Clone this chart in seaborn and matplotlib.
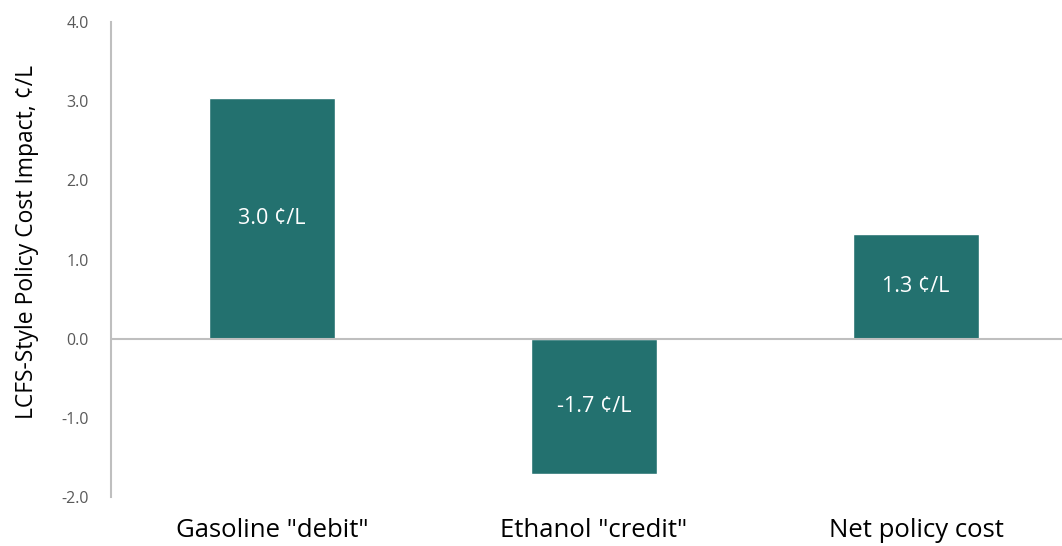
import matplotlib
matplotlib.use("Agg")
import matplotlib.pyplot as plt
import seaborn as sns
import pandas as pd

# Policy cost components, cents per litre
categories = ['Gasoline "debit"', 'Ethanol "credit"', 'Net policy cost']
values = [3.04, -1.71, 1.32]
y_ticks = [-2.0, -1.0, 0.0, 1.0, 2.0, 3.0, 4.0]

sns.set_theme(style="white")
plt.rcParams["font.family"] = ["Open Sans", "DejaVu Sans"]

bar_color = "#23716F"
axis_gray = "#BFBFBF"
tick_gray = "#595959"

df = pd.DataFrame({"category": categories, "value": values})

fig = plt.figure(figsize=(10.62, 5.46), dpi=100)
ax = fig.add_axes([0.1045, 0.0897, 0.9096, 0.87])

sns.barplot(data=df, x="category", y="value", color=bar_color,
            saturation=1, width=0.39, ax=ax)

ax.set_ylim(-2.0, 4.0)
ax.set_xlim(-0.5, 2.5)
ax.set_yticks(y_ticks)
ax.set_yticklabels([f"{t:.1f}" for t in y_ticks], color=tick_gray, fontsize=11.5)
ax.tick_params(axis="y", length=0, pad=16)
ax.tick_params(axis="x", length=0, pad=15, labelsize=18.5, labelcolor="black")

ax.axhline(0, color=axis_gray, lw=1.5, zorder=1)
for side in ["top", "right", "bottom"]:
    ax.spines[side].set_visible(False)
ax.spines["left"].set_color(axis_gray)
ax.spines["left"].set_linewidth(1.5)

ax.set_xlabel("")
ax.set_ylabel("LCFS-Style Policy Cost Impact, ¢/L", fontsize=16.5, color="black")
ax.yaxis.set_label_coords(-0.074, 0.537)

ax.bar_label(ax.containers[0], labels=[f"{v:.1f} ¢/L" for v in values],
             label_type="center", color="white", fontsize=15.5)

fig.savefig("out.png", dpi=100)
